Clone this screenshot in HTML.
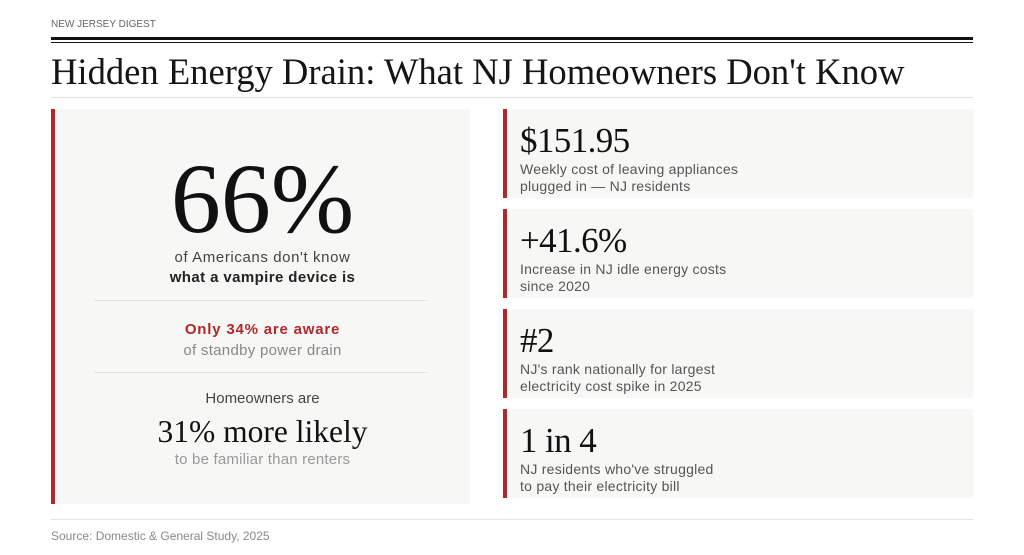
<!DOCTYPE html>
<html>
<head>
<meta charset="utf-8">
<style>
  html,body{margin:0;padding:0;background:#fff;}
  body{width:1024px;height:555px;position:relative;overflow:hidden;font-family:"Liberation Sans",sans-serif;}
  .a{position:absolute;white-space:nowrap;}
  .serif{font-family:"Liberation Serif",serif;color:#111;}
  .sans{font-family:"Liberation Sans",sans-serif;}
  .panel{position:absolute;background:#f7f7f5;}
  .bar{position:absolute;left:0;top:0;bottom:0;width:4px;background:#b3272b;}
  .c{text-align:center;left:55px;width:415px;}
  .num{font-size:35px;line-height:35px;left:520px;letter-spacing:-0.6px;}
  .desc{font-size:14px;line-height:17px;color:#555;left:520px;letter-spacing:0.25px;}
</style>
</head>
<body>
  <div class="a sans" style="left:51px;top:18px;font-size:10px;line-height:14px;color:#666;">NEW JERSEY DIGEST</div>
  <div class="a" style="left:51px;top:37px;width:922px;height:2.5px;background:#111;"></div>
  <div class="a" style="left:51px;top:42px;width:922px;height:1.3px;background:#111;"></div>

  <div class="a serif" style="left:51px;top:54px;font-size:36.6px;line-height:36px;color:#151515;">Hidden Energy Drain: What NJ Homeowners Don't Know</div>
  <div class="a" style="left:51px;top:97px;width:922px;height:1px;background:#e2e2e2;"></div>

  <!-- Left panel -->
  <div class="panel" style="left:51px;top:109px;width:419px;height:395px;"><div class="bar"></div></div>
  <div class="a serif c" style="top:149px;font-size:100px;line-height:100px;color:#111;">66%</div>
  <div class="a sans c" style="top:248px;font-size:15px;line-height:20px;color:#444;letter-spacing:0.6px;">of Americans don't know</div>
  <div class="a sans c" style="top:268px;font-size:15px;line-height:20px;color:#222;font-weight:bold;letter-spacing:0.4px;">what a vampire device is</div>
  <div class="a" style="left:94px;top:300px;width:333px;height:1px;background:#e2e2e0;"></div>
  <div class="a sans c" style="top:320px;font-size:15px;line-height:20px;color:#b3272b;font-weight:bold;letter-spacing:0.8px;">Only 34% are aware</div>
  <div class="a sans c" style="top:341px;font-size:15px;line-height:20px;color:#888;letter-spacing:0.3px;">of standby power drain</div>
  <div class="a" style="left:94px;top:372px;width:333px;height:1px;background:#e2e2e0;"></div>
  <div class="a sans c" style="top:389px;font-size:15px;line-height:20px;color:#444;">Homeowners are</div>
  <div class="a serif c" style="top:416px;font-size:31.5px;line-height:32px;color:#111;">31% more likely</div>
  <div class="a sans c" style="top:450px;font-size:15px;line-height:20px;color:#999;letter-spacing:0.2px;">to be familiar than renters</div>

  <!-- Right cards -->
  <div class="panel" style="left:503px;top:109px;width:470px;height:89px;"><div class="bar"></div></div>
  <div class="panel" style="left:503px;top:209px;width:470px;height:89px;"><div class="bar"></div></div>
  <div class="panel" style="left:503px;top:309px;width:470px;height:89px;"><div class="bar"></div></div>
  <div class="panel" style="left:503px;top:409px;width:470px;height:89px;"><div class="bar"></div></div>

  <div class="a serif num" style="top:123px;">$151.95</div>
  <div class="a sans desc" style="top:161px;">Weekly cost of leaving appliances</div>
  <div class="a sans desc" style="top:178px;">plugged in — NJ residents</div>

  <div class="a serif num" style="top:223px;">+41.6%</div>
  <div class="a sans desc" style="top:261px;">Increase in NJ idle energy costs</div>
  <div class="a sans desc" style="top:278px;">since 2020</div>

  <div class="a serif num" style="top:323px;">#2</div>
  <div class="a sans desc" style="top:361px;">NJ's rank nationally for largest</div>
  <div class="a sans desc" style="top:378px;">electricity cost spike in 2025</div>

  <div class="a serif num" style="top:423px;">1 in 4</div>
  <div class="a sans desc" style="top:461px;">NJ residents who've struggled</div>
  <div class="a sans desc" style="top:478px;">to pay their electricity bill</div>

  <div class="a" style="left:51px;top:519px;width:922px;height:1px;background:#e2e2e2;"></div>
  <div class="a sans" style="left:51px;top:529px;font-size:12px;line-height:14px;color:#888;">Source: Domestic &amp; General Study, 2025</div>
</body>
</html>
